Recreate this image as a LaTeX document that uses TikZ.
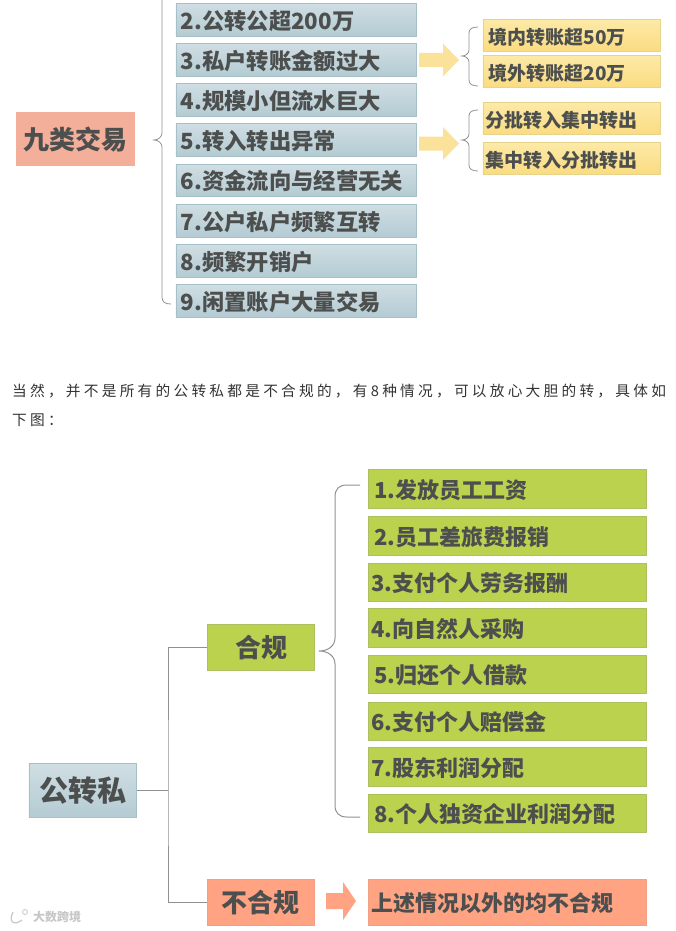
\documentclass[tikz,border=0pt]{standalone}
\usepackage{fontspec}
\setmainfont{Noto Sans CJK SC}
\newfontfamily\parafont[LetterSpace=22]{Noto Sans CJK SC}
\definecolor{txt}{HTML}{4C4F4E}
\definecolor{bluetop}{HTML}{CFDEE3}
\definecolor{bluebot}{HTML}{B4CBD3}
\definecolor{blueedge}{HTML}{A6C0C9}
\definecolor{yeltop}{HTML}{FDEAA8}
\definecolor{yelbot}{HTML}{FADB80}
\definecolor{yeledge}{HTML}{E6D48C}
\definecolor{salmon}{HTML}{F4AF9B}
\definecolor{grn}{HTML}{BBD24F}
\definecolor{grnedge}{HTML}{ABC060}
\definecolor{org}{HTML}{FFA383}
\definecolor{orgedge}{HTML}{EFA184}
\definecolor{arrowyel}{HTML}{FBE29A}
\definecolor{linegray}{HTML}{8F9292}
\tikzset{
  x=1pt,y=-1pt,
  boxbase/.style={rectangle,inner ysep=0pt,anchor=north west,text=txt,font=\bfseries},
  bluebox/.style={boxbase,top color=bluetop,bottom color=bluebot,draw=blueedge,line width=.6pt},
  yelbox/.style={boxbase,top color=yeltop,bottom color=yelbot,draw=yeledge,line width=.6pt},
  grnbox/.style={boxbase,fill=grn,draw=grnedge,line width=.6pt},
  orgbox/.style={boxbase,fill=org,draw=orgedge,line width=.6pt},
  salbox/.style={boxbase,fill=salmon},
  brace/.style={draw=linegray,line width=.8pt},
  bigbrace/.style={draw=linegray,line width=1pt},
  conn/.style={draw=linegray,line width=1pt},
  paratext/.style={anchor=west,inner sep=0pt,text=black!80,font=\parafont\fontsize{14.7}{18}\selectfont},
  logotext/.style={anchor=west,inner sep=0pt,text=black!22,font=\bfseries\fontsize{12}{14}\selectfont}
}
% name, style, x1, y1, x2, y2, left pad, font size, text
\newcommand{\bx}[9]{%
  \pgfmathsetlengthmacro{\bw}{(#5-#3-.6)*1pt}%
  \pgfmathsetlengthmacro{\bh}{(#6-#4-.6)*1pt}%
  \pgfmathsetlengthmacro{\btw}{(#5-#3-2*#7-.6)*1pt}%
  \node[#2,at={(#3-.5,#4)},minimum width=\bw,minimum height=\bh,inner xsep=#7pt,text width=\btw,align=left]
    (#1) {\fontsize{#8}{#8}\selectfont\strut\raisebox{-5pt}[0pt][0pt]{#9}};}
\newcommand{\blockarrow}[7]{% x0, xbase, xtip, ymid, shaft half, head half, colour
  \fill[#7] (#1,#4-#5) -- (#2,#4-#5) -- (#2,#4-#6) -- (#3,#4) -- (#2,#4+#6) -- (#2,#4+#5) -- (#1,#4+#5) -- cycle;}
\begin{document}
\begin{tikzpicture}
\useasboundingbox (0,0) rectangle (675,931);
% upper part
\bx{nine}{salbox}{16}{112}{136}{166}{8}{26}{九类交易}
\bx{a2}{bluebox}{176}{3}{417}{37}{5}{22.3}{2.公转公超200万}
\bx{a3}{bluebox}{176}{43}{417}{77}{5}{22.3}{3.私户转账金额过大}
\bx{a4}{bluebox}{176}{83}{417}{117}{5}{22.3}{4.规模小但流水巨大}
\bx{a5}{bluebox}{176}{123}{417}{157}{5}{22.3}{5.转入转出异常}
\bx{a6}{bluebox}{176}{164}{417}{197}{5}{22.3}{6.资金流向与经营无关}
\bx{a7}{bluebox}{176}{204}{417}{238}{5}{22.3}{7.公户私户频繁互转}
\bx{a8}{bluebox}{176}{244}{417}{278}{5}{22.3}{8.频繁开销户}
\bx{a9}{bluebox}{176}{284}{417}{318}{5}{22.3}{9.闲置账户大量交易}
\bx{y1}{yelbox}{483}{19}{661}{52}{6}{19}{境内转账超50万}
\bx{y2}{yelbox}{483}{55}{661}{88}{6}{19}{境外转账超20万}
\bx{y3}{yelbox}{483}{102}{661}{135}{3}{19}{分批转入集中转出}
\bx{y4}{yelbox}{483}{142}{661}{175}{3}{19}{集中转入分批转出}
\blockarrow{419}{443}{459}{60}{7}{16.5}{arrowyel}
\blockarrow{419}{443}{459}{143.5}{7}{16.5}{arrowyel}
% large left brace
\coordinate (b1top) at (162,-2);
\coordinate (b1tip) at (154,140);
\coordinate (b1bot) at (171,304);
\draw[brace] (b1top) -- (162,133) .. controls (162,137) and (158,140) .. (b1tip)
  .. controls (158,140) and (162,143) .. (162,147) -- (162,297) .. controls (162,302) and (165,304) .. (b1bot);
% small braces
\coordinate (s1top) at (478,27);
\coordinate (s1tip) at (462,56);
\coordinate (s1bot) at (478,86);
\draw[brace] (s1top) .. controls (472,27) and (469,29) .. (469,33) -- (469,50)
  .. controls (469,53) and (466,56) .. (s1tip) .. controls (466,56) and (469,59) .. (469,62)
  -- (469,80) .. controls (469,84) and (472,86) .. (s1bot);
\coordinate (s2top) at (478,110);
\coordinate (s2tip) at (462,140);
\coordinate (s2bot) at (478,171);
\draw[brace] (s2top) .. controls (472,110) and (469,112) .. (469,116) -- (469,134)
  .. controls (469,137) and (466,140) .. (s2tip) .. controls (466,140) and (469,143) .. (469,146)
  -- (469,165) .. controls (469,169) and (472,171) .. (s2bot);
% paragraph
\node[paratext] (p1) at (12,391) {当然，并不是所有的公转私都是不合规的，有8种情况，可以放心大胆的转，具体如};
\node[paratext] (p2) at (12,420) {下图：};
% lower part
\bx{gzs}{bluebox}{29}{763}{137.5}{818}{11}{29}{公转私}
\bx{hg}{grnbox}{207}{624}{315.5}{671}{29}{26}{合规}
\bx{bhg}{orgbox}{207}{879}{315.5}{926}{15}{26}{不合规}
\bx{g1}{grnbox}{368.5}{469}{647}{509}{6}{22}{1.发放员工工资}
\bx{g2}{grnbox}{368.5}{516}{647}{556}{6}{22}{2.员工差旅费报销}
\bx{g3}{grnbox}{368.5}{563}{647}{602}{3}{22}{3.支付个人劳务报酬}
\bx{g4}{grnbox}{368.5}{608}{647}{648}{3}{22}{4.向自然人采购}
\bx{g5}{grnbox}{368.5}{655}{647}{694}{6}{22}{5.归还个人借款}
\bx{g6}{grnbox}{368.5}{702}{647}{741}{3}{22}{6.支付个人赔偿金}
\bx{g7}{grnbox}{368.5}{747}{647}{787}{3}{22}{7.股东利润分配}
\bx{g8}{grnbox}{368.5}{794}{647}{833}{6}{22}{8.个人独资企业利润分配}
\bx{r1}{orgbox}{368.5}{879}{647}{926}{3}{22}{上述情况以外的均不合规}
\blockarrow{326}{343}{356}{901}{8}{19}{org}
% tree connector
\coordinate (jn) at (168,790.5);
\draw[conn] (gzs.east) -- (jn);
\draw[conn] (hg.west) -| (jn) |- (bhg.west);
% big brace
\coordinate (b2top) at (360,485);
\coordinate (b2tip) at (319,651);
\coordinate (b2bot) at (360,817);
\draw[bigbrace] (b2top) -- (347,485) .. controls (339,485) and (335,489) .. (335,497) -- (335,638)
  .. controls (335,646) and (328,651) .. (b2tip) .. controls (328,651) and (335,656) .. (335,664)
  -- (335,805) .. controls (335,813) and (339,817) .. (347,817) -- (b2bot);
% logo
\node[logotext] (logo) at (33,917) {大数跨境};
\draw[black!22,line width=1.2pt] (13,912) .. controls (8,922) and (14,926) .. (22,920);
\draw[black!22,line width=.8pt] (25,912) circle (2.5);
\end{tikzpicture}
\end{document}
